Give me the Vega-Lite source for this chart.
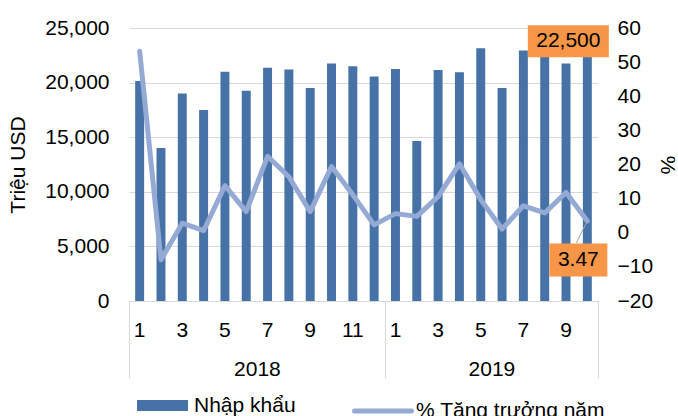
{
  "$schema": "https://vega.github.io/schema/vega-lite/v6.json",
  "width": 469,
  "height": 273,
  "autosize": {"type": "none"},
  "padding": {"left": 129, "top": 28, "right": 80, "bottom": 115},
  "background": "white",
  "config": {
    "view": {"stroke": null},
    "font": "Liberation Sans",
    "axis": {"labelFont": "Liberation Sans", "titleFont": "Liberation Sans", "labelFontSize": 21, "titleFontSize": 21, "labelColor": "#000000", "titleColor": "#000000", "titleFontWeight": "normal"},
    "legend": {"labelFont": "Liberation Sans", "labelFontSize": 21, "labelColor": "#000000", "labelLimit": 0}
  },
  "data": {
    "values": [
      {"ky": "2018-1", "nhap_khau": 20150, "tang_truong": 53.2},
      {"ky": "2018-2", "nhap_khau": 14000, "tang_truong": -7.9},
      {"ky": "2018-3", "nhap_khau": 19000, "tang_truong": 2.8},
      {"ky": "2018-4", "nhap_khau": 17500, "tang_truong": 0.6},
      {"ky": "2018-5", "nhap_khau": 21000, "tang_truong": 13.8},
      {"ky": "2018-6", "nhap_khau": 19250, "tang_truong": 6.2},
      {"ky": "2018-7", "nhap_khau": 21350, "tang_truong": 22.4},
      {"ky": "2018-8", "nhap_khau": 21200, "tang_truong": 16.4},
      {"ky": "2018-9", "nhap_khau": 19500, "tang_truong": 6.2},
      {"ky": "2018-10", "nhap_khau": 21750, "tang_truong": 19.4},
      {"ky": "2018-11", "nhap_khau": 21500, "tang_truong": 11.1},
      {"ky": "2018-12", "nhap_khau": 20550, "tang_truong": 2.3},
      {"ky": "2019-1", "nhap_khau": 21250, "tang_truong": 5.6},
      {"ky": "2019-2", "nhap_khau": 14650, "tang_truong": 4.8},
      {"ky": "2019-3", "nhap_khau": 21150, "tang_truong": 10.6},
      {"ky": "2019-4", "nhap_khau": 20950, "tang_truong": 20.2},
      {"ky": "2019-5", "nhap_khau": 23150, "tang_truong": 9.7},
      {"ky": "2019-6", "nhap_khau": 19500, "tang_truong": 1.1},
      {"ky": "2019-7", "nhap_khau": 22950, "tang_truong": 7.9},
      {"ky": "2019-8", "nhap_khau": 23000, "tang_truong": 5.8},
      {"ky": "2019-9", "nhap_khau": 21750, "tang_truong": 11.8},
      {"ky": "2019-10", "nhap_khau": 22500, "tang_truong": 3.47}
    ]
  },
  "layer": [
    {
      "encoding": {
        "x": {
          "field": "ky", "type": "ordinal", "sort": null,
          "scale": {"paddingInner": 0, "paddingOuter": 0},
          "axis": {
            "title": null, "orient": "bottom",
            "values": ["2018-1", "2018-3", "2018-5", "2018-7", "2018-9", "2018-11", "2019-1", "2019-3", "2019-5", "2019-7", "2019-9"],
            "labelExpr": "split(datum.value, '-')[1]",
            "labelAngle": 0, "labelOverlap": false,
            "ticks": false, "tickSize": 0, "labelPadding": 18,
            "domain": true, "domainColor": "#d9d9d9", "domainWidth": 1,
            "grid": false
          }
        }
      },
      "layer": [
        {
          "encoding": {
            "y": {
              "type": "quantitative",
              "scale": {"domain": [0, 25000], "nice": false, "zero": true},
              "axis": {
                "title": "Triệu USD", "titlePadding": 16,
                "values": [0, 5000, 10000, 15000, 20000, 25000],
                "labelExpr": "format(datum.value, ',.0f')",
                "ticks": false, "tickSize": 0, "labelPadding": 20, "domain": false,
                "grid": true, "gridColor": "#d9d9d9", "gridWidth": 1
              }
            }
          },
          "layer": [
            {
              "mark": {"type": "bar", "width": {"band": 0.42}},
              "encoding": {
                "y": {"field": "nhap_khau"},
                "color": {
                  "datum": "Nhập khẩu", "type": "nominal",
                  "scale": {"range": ["#4672a8"]},
                  "legend": {
                    "title": null, "orient": "none", "legendX": 8, "legendY": 352,
                    "symbolType": "M-1,-0.215H1V0.215H-1Z", "symbolSize": 2601,
                    "symbolStrokeWidth": 0, "symbolOpacity": 1, "labelOffset": 6
                  }
                }
              }
            },
            {
              "transform": [{"filter": "datum.ky == '2019-10'"}],
              "mark": {"type": "point", "shape": "M-1,-0.395H1V0.395H-1Z", "size": 6561, "filled": true, "opacity": 1, "color": "#f79646", "strokeWidth": 0, "xOffset": -19, "yOffset": -14},
              "encoding": {"y": {"field": "nhap_khau"}}
            },
            {
              "transform": [{"filter": "datum.ky == '2019-10'"}],
              "mark": {"type": "text", "fontSize": 21, "color": "#000000", "dx": -19, "dy": -14, "align": "center", "baseline": "middle"},
              "encoding": {"y": {"field": "nhap_khau"}, "text": {"field": "nhap_khau", "format": ","}}
            }
          ]
        },
        {
          "encoding": {
            "y": {
              "type": "quantitative",
              "scale": {"domain": [-20, 60], "nice": false, "zero": false},
              "axis": {
                "orient": "right", "title": "%", "titlePadding": 4,
                "values": [-20, -10, 0, 10, 20, 30, 40, 50, 60],
                "ticks": false, "tickSize": 0, "labelPadding": 19, "domain": false, "grid": false
              }
            }
          },
          "layer": [
            {
              "mark": {"type": "line", "strokeWidth": 5, "strokeJoin": "round", "strokeCap": "round"},
              "encoding": {
                "y": {"field": "tang_truong"},
                "stroke": {
                  "datum": "% Tăng trưởng năm", "type": "nominal",
                  "scale": {"range": ["#94aad4"]},
                  "legend": {
                    "title": null, "orient": "none", "legendX": 223, "legendY": 352,
                    "symbolType": "stroke", "symbolSize": 3249, "symbolStrokeWidth": 5,
                    "labelOffset": 2,
                    "encode": {"symbols": {"update": {"strokeCap": {"value": "round"}}}}
                  }
                }
              }
            },
            {
              "transform": [{"filter": "datum.ky == '2019-10'"}],
              "mark": {"type": "point", "shape": "M0,0L-0.5,1", "size": 1936, "filled": false, "opacity": 1, "stroke": "#a6a6a6", "strokeWidth": 1},
              "encoding": {"y": {"field": "tang_truong"}}
            },
            {
              "transform": [{"filter": "datum.ky == '2019-10'"}],
              "mark": {"type": "point", "shape": "M-1,-0.569H1V0.569H-1Z", "size": 3364, "filled": true, "opacity": 1, "color": "#f79646", "strokeWidth": 0, "xOffset": -9, "yOffset": 39},
              "encoding": {"y": {"field": "tang_truong"}}
            },
            {
              "transform": [{"filter": "datum.ky == '2019-10'"}],
              "mark": {"type": "text", "fontSize": 21, "color": "#000000", "dx": -9, "dy": 39, "align": "center", "baseline": "middle"},
              "encoding": {"y": {"field": "tang_truong"}, "text": {"field": "tang_truong", "format": ".2f"}}
            }
          ]
        }
      ],
      "resolve": {"scale": {"y": "independent", "color": "independent", "stroke": "independent"}}
    },
    {
      "data": {"values": [{"nam": "2018"}]},
      "mark": {"type": "rule", "opacity": 0},
      "encoding": {
        "x": {
          "datum": 0, "type": "quantitative",
          "scale": {"domain": [0, 22], "nice": false, "zero": false},
          "axis": {
            "title": null, "orient": "bottom",
            "values": [0, 6, 12, 17, 22],
            "labelExpr": "datum.value == 6 ? '2018' : datum.value == 17 ? '2019' : ''",
            "tickSize": 77, "tickWidth": 1,
            "tickColor": {"condition": {"test": "datum.value == 6 || datum.value == 17", "value": "transparent"}, "value": "#d9d9d9"},
            "labelPadding": -20, "labelFlush": false, "labelOverlap": false, "labelBound": false,
            "domain": false, "grid": false
          }
        }
      }
    }
  ],
  "resolve": {"scale": {"x": "independent"}}
}
